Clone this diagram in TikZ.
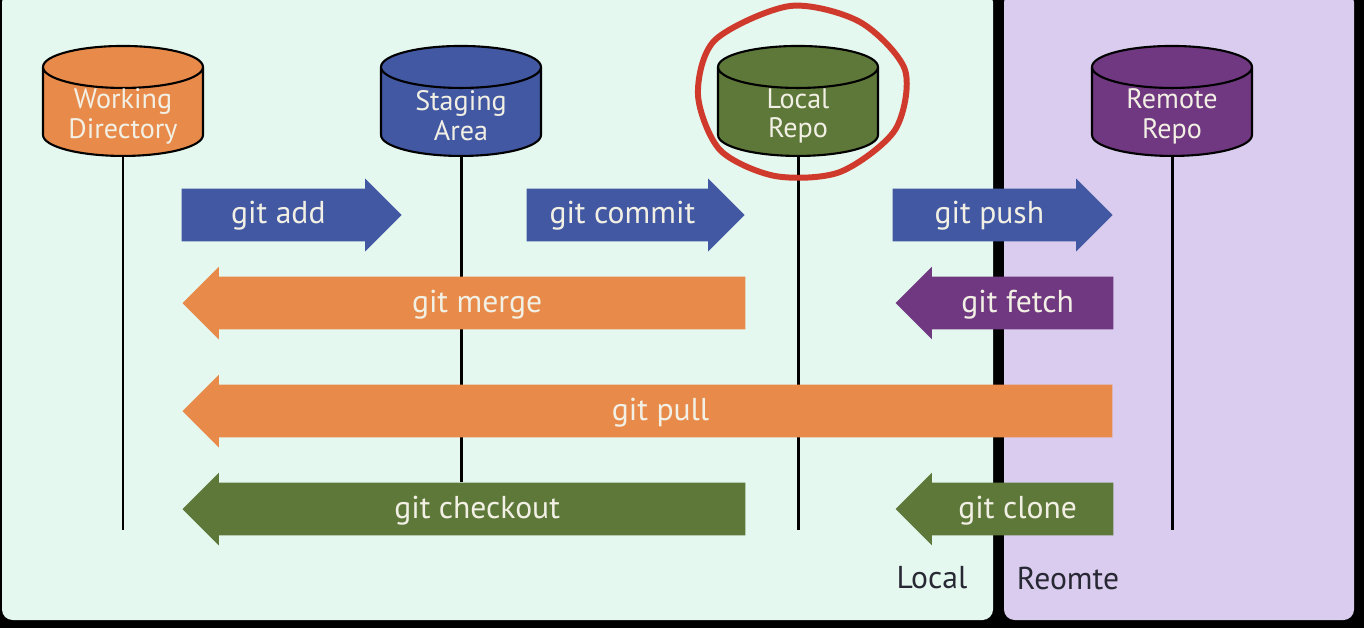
\documentclass[tikz,border=0pt]{standalone}
\usepackage{fontspec}
\setmainfont{PT Sans}
\usetikzlibrary{
  shapes.geometric,
  shapes.arrows,
  positioning
}
\definecolor{wdcolor}{RGB}{232, 139, 74}
\definecolor{stagecolor}{RGB}{66, 88, 162}
\definecolor{repocolor}{RGB}{94, 120, 58}
\definecolor{remotecolor}{RGB}{112, 56, 128}
\definecolor{localbg}{RGB}{228, 248, 239}
\definecolor{remotebg}{RGB}{217, 204, 238}
\definecolor{circlecolor}{RGB}{208, 58, 44}
\definecolor{labeltext}{RGB}{242, 240, 228}
\definecolor{sidetext}{RGB}{40, 40, 52}
\tikzset{
storenode/.style={
  cylinder,
  shape border rotate=90,
  aspect=0.7,
  draw=black,
  line width=1.2pt,
  minimum width=3.2cm,
  minimum height=2.2cm,
  inner sep=0.6cm,
  anchor=south
},
storetext/.style={
  anchor=center,
  yshift=0.82cm,
  align=center,
  font=\fontsize{16}{17}\selectfont,
  text=labeltext
},
cmdarrow/.style={
  single arrow,
  single arrow head extend=0.2cm,
  text height=0.4cm,
  text depth=0.04cm,
  inner ysep=0.3cm,
  inner xsep=0pt,
  font=\fontsize{18}{20}\selectfont,
  text=labeltext
},
rightcmd/.style={
  cmdarrow,
  shape border rotate=0,
  anchor=tip
},
leftcmd/.style={
  cmdarrow,
  shape border rotate=180,
  anchor=tip
},
lifeline/.style={
  draw=black,
  line width=1.7pt
},
sidelabel/.style={
  font=\fontsize{18}{20}\selectfont,
  text=sidetext
}
}

\begin{document}
\begin{tikzpicture}[x=0.02cm, y=-0.02cm]

% ============================================================================
% Fundo: Local e Remote
% ============================================================================
\useasboundingbox (0,0) rectangle (1364,628);
\fill[black] (0,0) rectangle (1364,628);
\fill[localbg, rounded corners=6pt] (2,-8) rectangle (993,620);
\fill[remotebg, rounded corners=6pt] (1004,-8) rectangle (1354,620);

% ============================================================================
% Repositórios
% ============================================================================
\node[storenode, fill=wdcolor, label={[storetext]south:{Working\\Directory}}] (workdir) at (123,157) {};
\node[storenode, fill=stagecolor, label={[storetext]south:{Staging\\Area}}] (staging) at (461,157) {};
\node[storenode, fill=repocolor, label={[storetext]south:{Local\\Repo}}] (localrepo) at (798,157) {};
\node[storenode, fill=remotecolor, label={[storetext]south:{Remote\\Repo}}] (remoterepo) at (1172,157) {};

% ============================================================================
% Linhas verticais
% ============================================================================
\coordinate (workdir_end) at (123,530);
\coordinate (staging_end) at (461,482);
\coordinate (localrepo_end) at (798,530);
\coordinate (remoterepo_end) at (1172,530);
\draw[lifeline] (workdir.south) -- (workdir_end);
\draw[lifeline] (staging.south) -- (staging_end);
\draw[lifeline] (localrepo.south) -- (localrepo_end);
\draw[lifeline] (remoterepo.south) -- (remoterepo_end);

% ============================================================================
% Comandos
% ============================================================================
\node[rightcmd, fill=stagecolor, minimum height=4.4cm] (add) at (402,215) {git add};
\node[rightcmd, fill=stagecolor, minimum height=4.36cm] (commit) at (745,215) {git commit};
\node[rightcmd, fill=stagecolor, minimum height=4.4cm] (push) at (1113,215) {git push};

\node[leftcmd, fill=wdcolor, minimum height=11.26cm] (merge) at (182,303) {git merge};
\node[leftcmd, fill=remotecolor, minimum height=4.36cm] (fetch) at (895,303) {git fetch};

\node[leftcmd, fill=wdcolor, minimum height=18.6cm] (pull) at (182,411) {git pull};

\node[leftcmd, fill=repocolor, minimum height=11.26cm] (checkout) at (182,509) {git checkout};
\node[leftcmd, fill=repocolor, minimum height=4.36cm] (clone) at (895,509) {git clone};

% ============================================================================
% Destaque
% ============================================================================
\draw[circlecolor, line width=3.4pt] plot[smooth cycle] coordinates {
  (790,6) (860,22) (905,70) (895,130) (840,172) (775,176) (720,150) (698,95) (715,40)};

% ============================================================================
% Rótulos
% ============================================================================
\node[sidelabel] (locallabel) at (932,578) {Local};
\node[sidelabel] (remotelabel) at (1068,578) {Reomte};

\end{tikzpicture}
\end{document}
